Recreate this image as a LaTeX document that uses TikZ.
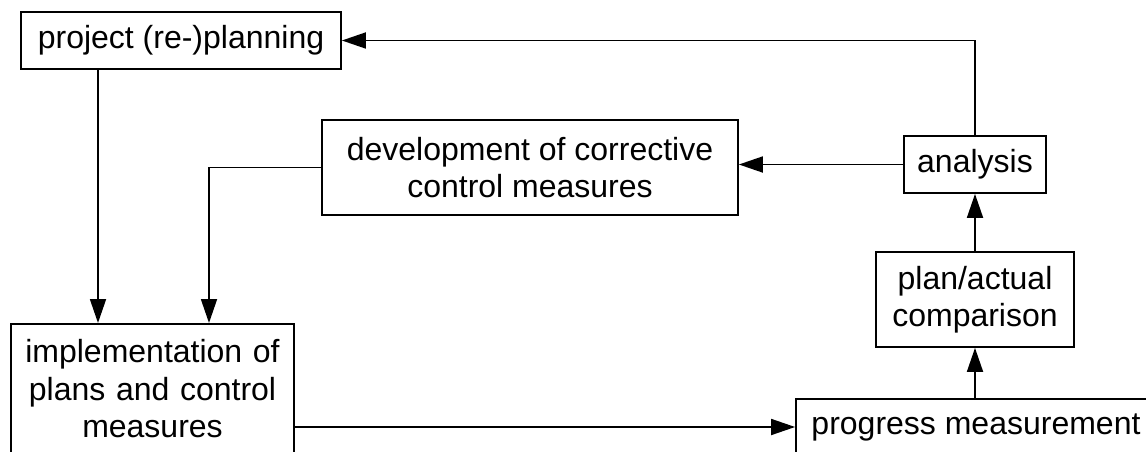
\documentclass[tikz,border=0pt]{standalone}
\usepackage{fontspec}
\setmainfont{Liberation Sans}
\usetikzlibrary{arrows.meta}
\begin{document}
\begin{tikzpicture}[x=1pt,y=-1pt,
  box/.style={draw, line width=1.8pt, inner sep=0pt, align=center,
    font=\fontsize{32}{37.5}\selectfont},
  flow/.style={line width=1.8pt, -{Triangle[length=24pt,width=16pt]}}]
\useasboundingbox (0,0) rectangle (1146,452);
\clip (0,0) rectangle (1146,452);

% boxes
\node[box, minimum width=320, minimum height=57] (proj) at (181,40.5) {project (re-)planning};
\node[box, minimum width=416, minimum height=95] (dev) at (530,167.5) {development of corrective\\control measures};
\node[box, minimum width=142, minimum height=57] (ana) at (975,164.5) {analysis};
\node[box, minimum width=198, minimum height=95] (plan) at (975,299.5) {plan/actual\\comparison};
\node[box, anchor=north, text width=283, inner ysep=15.5] (impl) at (152.5,323)
  {implementation of\\plans and control\\measures};
\node[box, minimum width=360, minimum height=56] (prog) at (976,427) {progress measurement};

% column positions of the two downward feeds
\coordinate (xa) at (98,0);
\coordinate (xb) at (209,0);

% connectors
\draw[flow] (proj.south -| xa) -- (xa |- impl.north);
\draw[flow] (dev.west) -| (xb |- impl.north);
\draw[flow] (impl.east |- prog.west) -- (prog.west);
\draw[flow] (prog.north -| plan.south) -- (plan.south);
\draw[flow] (plan.north) -- (ana.south);
\draw[flow] (ana.west) -- (ana.west -| dev.east);
\draw[flow] (ana.north) |- (proj.east);
\end{tikzpicture}
\end{document}
